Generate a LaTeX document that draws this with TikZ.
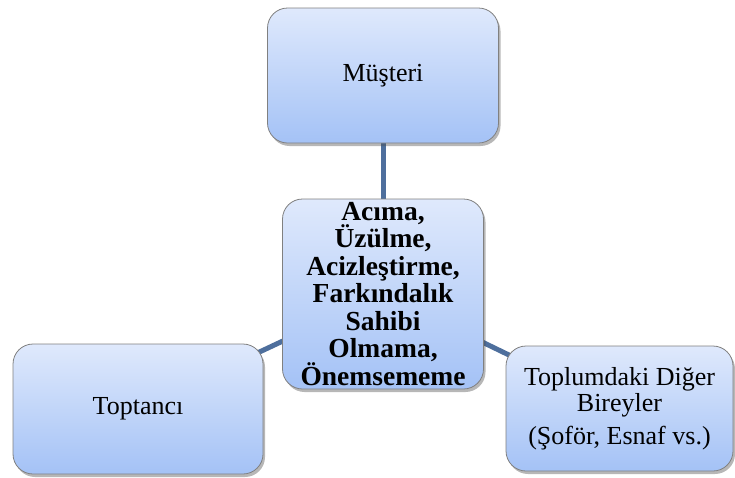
\documentclass[tikz,border=0pt]{standalone}
\usepackage{fontspec}
\setmainfont{Liberation Serif}
\usetikzlibrary{shadows,backgrounds}
\definecolor{boxtop}{HTML}{DFE9FC}
\definecolor{boxbot}{HTML}{A4C2F6}
\definecolor{boxline}{HTML}{808080}
\definecolor{linkblue}{HTML}{4E6F9D}
\begin{document}
\begin{tikzpicture}[x=1pt,y=-1pt,
  box/.style={draw=boxline, line width=0.8pt, rounded corners=20pt,
    top color=boxtop, bottom color=boxbot,
    drop shadow={shadow xshift=2pt, shadow yshift=-3pt, opacity=0.4, fill=black!70},
    inner sep=0pt, align=center, font=\fontsize{26}{26}\selectfont},
  link/.style={draw=linkblue, line width=5pt}]
  \useasboundingbox (0,0) rectangle (735,477);

  % central theme and the three groups around it
  \node[box, minimum width=231pt, minimum height=135pt] (cust) at (383,75.5) {Müşteri};
  \node[box, minimum width=201pt, minimum height=190pt,
        font=\bfseries\fontsize{27.5}{27.5}\selectfont] (core) at (383,294)
        {Acıma,\\Üzülme,\\Acizleştirme,\\Farkındalık\\Sahibi\\Olmama,\\Önemsememe};
  \node[box, minimum width=250pt, minimum height=130pt] (whole) at (138,409) {Toptancı};
  \node[box, minimum width=227pt, minimum height=125pt] (others) at (619.5,408.5)
        {Toplumdaki Diğer\\Bireyler\\[7pt](Şoför, Esnaf vs.)};

  % connectors run centre to centre, hidden behind the boxes
  \begin{pgfonlayer}{background}
    \draw[link] (cust.center) -- (core.center);
    \draw[link] (core.center) -- (whole.center);
    \draw[link] (core.center) -- (others.center);
  \end{pgfonlayer}
\end{tikzpicture}
\end{document}
